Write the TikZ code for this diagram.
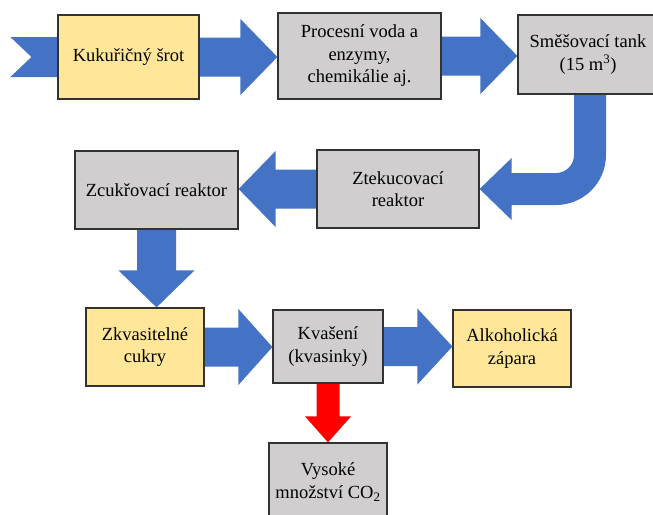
\documentclass[tikz,border=0pt]{standalone}
\usepackage{fontspec}
\setmainfont{LiberationSerif}[Extension=.ttf, UprightFont=*-Regular, BoldFont=*-Bold,
  ItalicFont=*-Italic, BoldItalicFont=*-BoldItalic]
\usetikzlibrary{calc}
\definecolor{flowblue}{RGB}{68,114,196}
\definecolor{flowred}{RGB}{255,0,0}
\definecolor{boxyellow}{RGB}{255,230,153}
\definecolor{boxgray}{RGB}{208,206,206}
\definecolor{boxline}{RGB}{50,50,50}
\pgfdeclarelayer{bg}
\pgfsetlayers{bg,main}
\tikzset{
  fat shaft/.store in=\fatshaft, fat head/.store in=\fathead, fat length/.store in=\fatlength,
  fat shaft=19.5pt, fat head=38pt, fat length=37pt,
  fatarrow/.style={fill=flowblue, to path={
    let \p1=(\tikztostart), \p2=(\tikztotarget), \n1={atan2(\y2-\y1,\x2-\x1)} in
    ($(\p1)+(\n1+90:\fatshaft)$) -- ($(\p2)+(\n1+180:\fatlength)+(\n1+90:\fatshaft)$)
    -- ($(\p2)+(\n1+180:\fatlength)+(\n1+90:\fathead)$) -- (\p2)
    -- ($(\p2)+(\n1+180:\fatlength)+(\n1-90:\fathead)$)
    -- ($(\p2)+(\n1+180:\fatlength)+(\n1-90:\fatshaft)$)
    -- ($(\p1)+(\n1-90:\fatshaft)$) -- cycle}},
  flowbox/.style={draw=boxline, line width=1.2pt, align=center, inner sep=0pt,
    font=\fontsize{18.5}{22.5}\selectfont},
  graybox/.style={flowbox, fill=boxgray},
  yellowbox/.style={flowbox, fill=boxyellow}
}

\begin{document}
\begin{tikzpicture}[x=1pt,y=-1pt]
    \useasboundingbox (0,0) rectangle (653,514);
    \clip (0,0) rectangle (653,514);

    % Top row
    \node[yellowbox, minimum width=141pt, minimum height=84pt] (srot) at (128.5,57) {Kukuřičný šrot};
    \node[graybox, minimum width=163pt, minimum height=86pt] (voda) at (359.5,56) {Procesní voda a\\enzymy,\\chemikálie aj.};
    \node[graybox, minimum width=140pt, minimum height=79pt] (tank) at (588,54.5) {Směšovací tank\\(15 m\textsuperscript{3})};

    % Middle row
    \node[graybox, minimum width=162pt, minimum height=78pt] (ztek) at (398,189) {Ztekucovací\\reaktor};
    \node[graybox, minimum width=163pt, minimum height=78pt] (zcuk) at (156.5,190) {Zcukřovací reaktor};

    % Bottom rows
    \node[yellowbox, minimum width=118pt, minimum height=78pt] (cukry) at (145,347) {Zkvasitelné\\cukry};
    \node[graybox, minimum width=110pt, minimum height=73pt] (kvas) at (328,346.5) {Kvašení\\(kvasinky)};
    \node[yellowbox, minimum width=118pt, minimum height=77pt] (zapara) at (512,348.5) {Alkoholická\\zápara};
    \node[graybox, minimum width=118pt, minimum height=78pt] (co2) at (328,482) {Vysoké\\množství CO\textsubscript{2}};

    \begin{pgfonlayer}{bg}
        % Notched input arrow
        \fill[flowblue] ($(srot.west)+(-47,-20)$) -- ($(srot.west)+(0,-20)$) -- ($(srot.west)+(0,20)$)
            -- ($(srot.west)+(-47,20)$) -- ($(srot.west)+(-26,0)$) -- cycle;

        % Straight arrows
        \path[fatarrow] (srot.east) to (srot.east -| voda.west);
        \path[fatarrow] (voda.east) to (voda.east -| tank.west);
        \path[fatarrow] (ztek.west) to (ztek.west -| zcuk.east);
        \path[fatarrow] (zcuk.south) to (zcuk.south |- cukry.north);
        \path[fatarrow, fat length=34pt] (cukry.east) to (cukry.east -| kvas.west);
        \path[fatarrow, fat length=35pt] (kvas.east) to (kvas.east -| zapara.west);
        \path[fatarrow, fill=flowred, fat shaft=11.5pt, fat head=23pt, fat length=26pt] (kvas.south) to (kvas.south |- co2.north);

        % Bent arrow tank -> ztekucovaci reaktor
        \coordinate (ustart) at ([xshift=2pt]tank.south);
        \fill[flowblue] let \p1=(ustart), \p2=(ztek.east) in
            (\x1+16pt,\y1) -- (\x1+16pt,\y2+34pt) arc[start angle=0, end angle=-90, radius=50pt]
            -- (\x2+32pt,\y2-16pt) -- (\x2+32pt,\y2-31pt) -- (\p2) -- (\x2+32pt,\y2+31pt)
            -- (\x2+32pt,\y2+16pt) -- (\x1-34pt,\y2+16pt) arc[start angle=-90, end angle=0, radius=18pt]
            -- (\x1-16pt,\y1) -- cycle;
    \end{pgfonlayer}
\end{tikzpicture}
\end{document}
